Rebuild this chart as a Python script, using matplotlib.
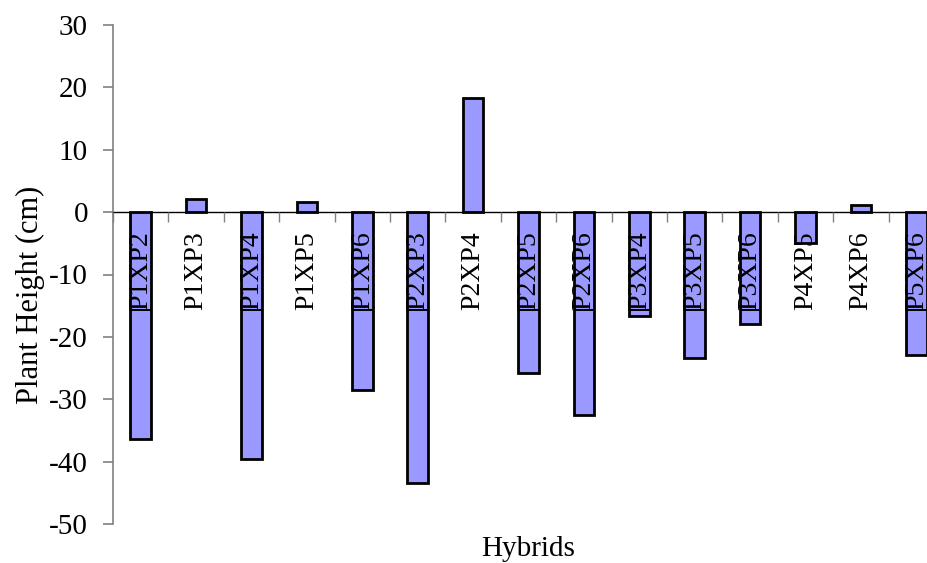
import matplotlib
matplotlib.use("Agg")
import matplotlib.pyplot as plt
import numpy as np

hybrids = ["P1XP2", "P1XP3", "P1XP4", "P1XP5", "P1XP6", "P2XP3", "P2XP4", "P2XP5",
           "P2XP6", "P3XP4", "P3XP5", "P3XP6", "P4XP5", "P4XP6", "P5XP6"]
plant_height = [-36.4, 2.1, -39.5, 1.6, -28.5, -43.4, 18.3, -25.8,
                -32.5, -16.6, -23.4, -18.0, -4.9, 1.1, -22.9]
y_ticks = [-50, -40, -30, -20, -10, 0, 10, 20, 30]

plt.rcParams["font.family"] = ["Liberation Serif", "DejaVu Serif"]
FS = 21

fig = plt.figure(figsize=(9.28, 5.63), dpi=100)
ax = fig.add_axes([113 / 928, 1 - 524 / 563, (944 - 113) / 928, (524 - 25) / 563])

x = np.arange(len(hybrids))
bar_w = 0.37
bars = ax.bar(x, plant_height, width=bar_w, color="#9999FF", edgecolor="black",
              linewidth=2.0, zorder=1)

ax.set_xlim(-0.5, len(hybrids) - 0.5)
ax.set_ylim(-50, 30)
ax.set_yticks(y_ticks)
ax.set_yticklabels([str(v) for v in y_ticks], fontsize=FS)

# category axis runs along the zero line
for s in ("top", "right"):
    ax.spines[s].set_visible(False)
ax.spines["bottom"].set_position(("data", 0))
ax.spines["bottom"].set_color("black")
ax.spines["bottom"].set_linewidth(1.0)
ax.spines["bottom"].set_zorder(3)
ax.spines["left"].set_color("#808080")
ax.spines["left"].set_linewidth(1.2)

ax.set_xticks(x)
ax.set_xticklabels(hybrids, rotation=90, fontsize=20, va="top")
ax.set_xticks(np.arange(len(hybrids) + 1) - 0.5, minor=True)
ax.tick_params(axis="x", which="major", length=0, pad=14)
ax.tick_params(axis="x", which="minor", length=7, width=1.0, color="#808080",
               direction="out")
ax.tick_params(axis="y", length=7, width=1.2, color="#808080", pad=11)
ax.xaxis.set_zorder(5)

ax.set_ylabel("Plant Height (cm)", fontsize=22)
ax.yaxis.set_label_coords(-0.082, 0.46, transform=ax.transAxes)
ax.set_xlabel("Hybrids", fontsize=FS)
ax.xaxis.set_label_coords(0.5, -0.025, transform=ax.transAxes)
ax.xaxis.label.set_va("top")

# thin rule across each bar where the category label band ends
fig.canvas.draw()
renderer = fig.canvas.get_renderer()
ext = ax.get_xticklabels()[0].get_window_extent(renderer)
band_bottom = ax.transData.inverted().transform((0, ext.y0))[1]
for xi, v in zip(x, plant_height):
    if v < band_bottom:
        ax.plot([xi - bar_w / 2, xi + bar_w / 2], [band_bottom, band_bottom],
                color="black", linewidth=1.4, zorder=3, solid_capstyle="butt")

fig.savefig("out.png", dpi=100)
